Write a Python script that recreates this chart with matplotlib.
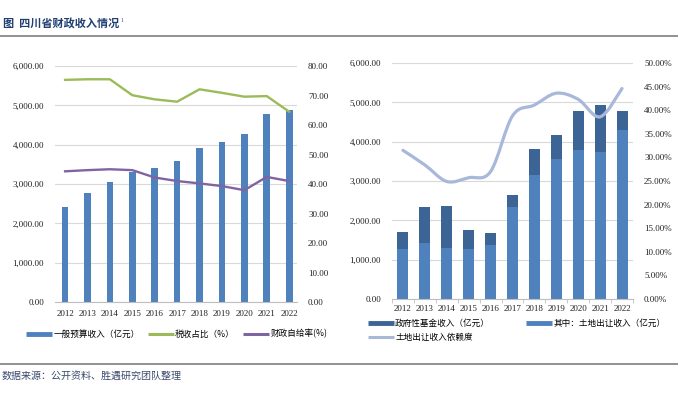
import matplotlib
matplotlib.use("Agg")
import matplotlib.pyplot as plt
import numpy as np
from matplotlib.path import Path
from matplotlib.patches import PathPatch
from matplotlib.lines import Line2D
from matplotlib.ticker import FuncFormatter, MultipleLocator

plt.rcParams['font.family'] = ['Liberation Serif', 'Noto Sans CJK SC', 'DejaVu Sans']

years = ['2012', '2013', '2014', '2015', '2016', '2017', '2018', '2019', '2020', '2021', '2022']
general_budget = [2419, 2776, 3056, 3311, 3396, 3582, 3905, 4066, 4261, 4771, 4881]
tax_share = [75.3, 75.5, 75.5, 70.1, 68.7, 67.9, 72.1, 70.9, 69.6, 69.8, 64.5]
self_sufficiency = [44.3, 44.7, 45.0, 44.7, 42.2, 41.0, 40.2, 39.3, 37.9, 42.4, 41.0]

fund_income = [1695, 2339, 2356, 1746, 1678, 2644, 3814, 4178, 4771, 4941, 4771]
land_income = [1280, 1432, 1305, 1280, 1381, 2339, 3144, 3559, 3780, 3737, 4288]
land_dependence = [31.5, 28.4, 24.9, 25.7, 27.0, 38.8, 41.1, 43.6, 42.3, 38.6, 44.6]

BLUE = '#4F81BD'
DARK = '#3C6596'
GREEN = '#9BBB59'
PURPLE = '#8064A2'
LIGHT = '#A8B8DA'
GRID = '#D9D9D9'
TXT = '#222222'
CJK = ['Noto Sans CJK SC', 'DejaVu Sans']

fig = plt.figure(figsize=(6.78, 3.99), dpi=100)

# Title and frame lines
fig.text(0.005, 1 - 23/399, '图  四川省财政收入情况', fontsize=8, fontweight='bold',
         color='#1F3F73', family=CJK, va='center', ha='left')
fig.text(0.178, 1 - 20/399, '1', fontsize=4, color='#1F3F73', va='center', ha='left')
fig.add_artist(Line2D([0, 1], [1 - 36/399, 1 - 36/399], color='#7F7F7F', lw=1.2))
fig.add_artist(Line2D([0, 1], [1 - 364/399, 1 - 364/399], color='#7F7F7F', lw=1.2))
fig.text(0.003, 1 - 376/399, '数据来源：公开资料、胜遇研究团队整理', fontsize=7.2,
         color='#3A4A6E', family=CJK, va='center', ha='left')

x = np.arange(len(years))
tick_fs = 6.5

def style(ax, xpad):
    for s in ['top', 'left', 'right']:
        ax.spines[s].set_visible(False)
    ax.spines['bottom'].set_color('#BFBFBF')
    ax.spines['bottom'].set_linewidth(0.8)
    ax.grid(axis='y', color=GRID, lw=0.8)
    ax.set_axisbelow(True)
    ax.tick_params(axis='y', length=0, labelsize=tick_fs, colors=TXT, pad=8)
    ax.tick_params(axis='x', length=0, labelsize=tick_fs, colors=TXT, pad=xpad)

def handle(color, lw):
    return Line2D([], [], color=color, lw=lw, solid_capstyle='butt')

# Left chart
ax1 = fig.add_axes([55/678, 97/399, 242/678, 236/399])
ax1.bar(x, general_budget, width=0.3, color=BLUE, zorder=2)
ax1.set_xlim(-0.45, 10.35)
ax1.set_ylim(0, 6000)
ax1.yaxis.set_major_locator(MultipleLocator(1000))
ax1.yaxis.set_major_formatter(FuncFormatter(lambda v, p: f'{v:,.2f}'))
ax1.set_xticks(x)
ax1.set_xticklabels(years)
style(ax1, 5.5)
ax1b = ax1.twinx()
ax1b.plot(x, tax_share, color=GREEN, lw=1.7, zorder=3)
ax1b.plot(x, self_sufficiency, color=PURPLE, lw=1.7, zorder=3)
ax1b.set_ylim(0, 80)
ax1b.yaxis.set_major_locator(MultipleLocator(10))
ax1b.yaxis.set_major_formatter(FuncFormatter(lambda v, p: f'{v:.2f}'))
for s in ['top', 'left', 'right', 'bottom']:
    ax1b.spines[s].set_visible(False)
ax1b.tick_params(axis='y', length=0, labelsize=tick_fs, colors=TXT, pad=8)

h1 = [handle(BLUE, 3.5), handle(GREEN, 2.2), handle(PURPLE, 2.2)]
l1 = ['一般预算收入（亿元）', '税收占比（%）', '财政自给率(%)']
fig.legend(h1, l1, loc='center left', bbox_to_anchor=(26/678, 1 - 334/399), ncol=3,
           frameon=False, handlelength=3.0, handletextpad=0.15,
           columnspacing=1.0, borderaxespad=0, borderpad=0,
           prop={'family': CJK, 'size': 6.2})

# Right chart
ax2 = fig.add_axes([392/678, 100/399, 241/678, 236/399])
ax2.bar(x, fund_income, width=0.5, color=DARK, zorder=2)
ax2.bar(x, land_income, width=0.5, color=BLUE, zorder=2)
ax2.set_xlim(-0.5, 10.5)
ax2.set_ylim(0, 6000)
ax2.yaxis.set_major_locator(MultipleLocator(1000))
ax2.yaxis.set_major_formatter(FuncFormatter(lambda v, p: f'{v:,.2f}'))
ax2.set_xticks(x)
ax2.set_xticklabels(years)
ax2.set_xticks(np.arange(-0.5, 11, 1), minor=True)
style(ax2, 4.5)
ax2.tick_params(axis='x', which='minor', length=3, color='#BFBFBF', width=0.6)
ax2b = ax2.twinx()
ax2b.set_ylim(0, 50)
ax2b.yaxis.set_major_locator(MultipleLocator(5))
ax2b.yaxis.set_major_formatter(FuncFormatter(lambda v, p: f'{v:.2f}%'))
for s in ['top', 'left', 'right', 'bottom']:
    ax2b.spines[s].set_visible(False)
ax2b.tick_params(axis='y', length=0, labelsize=tick_fs, colors=TXT, pad=8)

# smooth line (Catmull-Rom -> Bezier) through the data points
px = list(x.astype(float))
py = list(land_dependence)
verts = [(px[0], py[0])]
codes = [Path.MOVETO]
n = len(px)
for i in range(n - 1):
    p0 = (px[max(i - 1, 0)], py[max(i - 1, 0)])
    p1 = (px[i], py[i])
    p2 = (px[i + 1], py[i + 1])
    p3 = (px[min(i + 2, n - 1)], py[min(i + 2, n - 1)])
    c1 = (p1[0] + (p2[0] - p0[0]) / 6, p1[1] + (p2[1] - p0[1]) / 6)
    c2 = (p2[0] - (p3[0] - p1[0]) / 6, p2[1] - (p3[1] - p1[1]) / 6)
    verts += [c1, c2, p2]
    codes += [Path.CURVE4] * 3
ax2b.add_patch(PathPatch(Path(verts, codes), facecolor='none', edgecolor=LIGHT, lw=2.3,
                         capstyle='round', zorder=3))

# legend: row 1 = fund, land; row 2 = dependence (ncol fills column-wise)
h2 = [handle(DARK, 3.5), handle(LIGHT, 2.2), handle(BLUE, 3.5)]
l2 = ['政府性基金收入（亿元）', '土地出让收入依赖度', '其中：土地出让收入（亿元）']
fig.legend(h2, l2, loc='upper left', bbox_to_anchor=(368/678, 1 - 319/399), ncol=2,
           frameon=False, handlelength=3.0, handletextpad=0.15,
           columnspacing=4.2, borderaxespad=0, borderpad=0, labelspacing=0.6,
           prop={'family': CJK, 'size': 6.2})

fig.savefig('out.png', dpi=100)
